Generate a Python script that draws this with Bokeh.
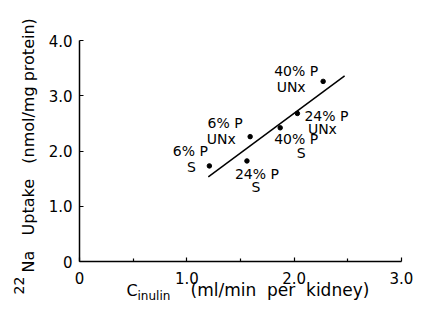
from bokeh.plotting import figure
from bokeh.models import Range1d, FixedTicker, Label, ColumnDataSource
from bokeh.core.properties import value
from bokeh.embed import file_html
from bokeh.resources import INLINE
import math

# ---- data ----
diet = ["6%", "24%", "6%", "40%", "24%", "40%"]
condition = ["S", "S", "UNx", "S", "UNx", "UNx"]
c_inulin = [1.21, 1.56, 1.59, 1.87, 2.03, 2.27]
na_uptake = [1.73, 1.82, 2.26, 2.42, 2.68, 3.26]

fit_x = [1.20, 2.47]
fit_y = [1.53, 3.36]

x_ticks = [0, 1, 2, 3]
x_minor = [0.5, 1.5, 2.5]
x_tick_labels = ["0", "1.0", "2.0", "3.0"]
y_ticks = [0, 1, 2, 3, 4]
y_tick_labels = ["0", "1.0", "2.0", "3.0", "4.0"]

# ---- layout / styling ----
W, H = 414, 301
# canvas pixel positions of the axes (origin, x=3, y=4)
X0, X3 = 79, 401
Y0, Y4 = 261, 40
X_MAX, Y_MAX = 3.0, 4.0


def xd(px):  # canvas px -> data x
    return (px - X0) / (X3 - X0) * X_MAX


def yd(py):  # canvas px (from top) -> data y
    return (Y0 - py) / (Y0 - Y4) * Y_MAX


off1 = {("6%", "S"): (-19, -15), ("24%", "S"): (10, 13), ("6%", "UNx"): (-25, -14),
        ("40%", "S"): (16, 11), ("24%", "UNx"): (29, 3), ("40%", "UNx"): (-27, -10)}
off2 = {("6%", "S"): (-18, 1), ("24%", "S"): (9, 26), ("6%", "UNx"): (-29, 2),
        ("40%", "S"): (21, 25), ("24%", "UNx"): (25, 16), ("40%", "UNx"): (-32, 6)}

FONT = value("DejaVu Sans")
NB = "\u00a0"

p = figure(width=W, height=H, output_backend="svg", toolbar_location=None,
           x_range=Range1d(xd(0), xd(W)), y_range=Range1d(yd(H), yd(0)),
           min_border=0, min_border_left=0, min_border_right=0,
           min_border_top=0, min_border_bottom=0)
p.outline_line_color = None
p.grid.visible = False
p.background_fill_color = "white"
p.border_fill_color = "white"

for ax in (p.xaxis[0], p.yaxis[0]):
    ax.fixed_location = 0
    ax.axis_line_color = "black"
    ax.axis_line_width = 1.5
    ax.major_tick_line_color = "black"
    ax.major_tick_line_width = 1.2
    ax.minor_tick_line_color = "black"
    ax.minor_tick_line_width = 1.2
    ax.major_tick_in = 4
    ax.major_tick_out = 0
    ax.minor_tick_in = 3
    ax.minor_tick_out = 0
    ax.major_label_text_font = "DejaVu Sans"
    ax.major_label_text_font_size = "15px"
    ax.major_label_text_color = "black"

p.xaxis[0].bounds = (0, X_MAX)
p.xaxis[0].ticker = FixedTicker(ticks=x_ticks, minor_ticks=x_minor)
p.xaxis[0].major_label_overrides = {t: l for t, l in zip(x_ticks, x_tick_labels)}
p.xaxis[0].major_label_standoff = 10
p.yaxis[0].bounds = (0, Y_MAX)
p.yaxis[0].ticker = FixedTicker(ticks=y_ticks, minor_ticks=[])
p.yaxis[0].major_label_overrides = {t: l for t, l in zip(y_ticks, y_tick_labels)}
p.yaxis[0].major_label_standoff = 7

# regression line
p.line(fit_x, fit_y, line_color="black", line_width=1.5)

# points
p.scatter(c_inulin, na_uptake, size=4.5, color="black")

# point labels
l1 = [d + " P" for d in diet]
keys = list(zip(diet, condition))
src = ColumnDataSource(dict(
    x=c_inulin, y=na_uptake, t1=l1, t2=condition,
    dx1=[off1[k][0] for k in keys], dy1=[off1[k][1] for k in keys],
    dx2=[off2[k][0] for k in keys], dy2=[off2[k][1] for k in keys]))
p.text(x="x", y="y", text="t1", x_offset="dx1", y_offset="dy1", source=src,
       text_font=FONT, text_font_size="14px", text_align="center",
       text_baseline="middle", text_color="black")
p.text(x="x", y="y", text="t2", x_offset="dx2", y_offset="dy2", source=src,
       text_font=FONT, text_font_size="14px", text_align="center",
       text_baseline="middle", text_color="black")

# axis titles (annotations, to allow sub/superscripts)
y_title = "Na" + NB * 3 + "Uptake" + NB * 3 + "(nmol/mg" + NB + "protein)"
p.add_layout(Label(x=xd(28), y=yd(272), text=y_title,
                   angle=math.pi / 2, text_align="left", text_baseline="middle",
                   text_font="DejaVu Sans", text_font_size="16px", text_color="black"))
p.add_layout(Label(x=xd(18), y=yd(294), text="22",
                   angle=math.pi / 2, text_align="left", text_baseline="middle",
                   text_font="DejaVu Sans", text_font_size="14px", text_color="black"))
p.add_layout(Label(x=xd(126), y=yd(290), text="C", text_align="left", text_baseline="middle",
                   text_font="DejaVu Sans", text_font_size="16px", text_color="black"))
p.add_layout(Label(x=xd(137), y=yd(295), text="inulin", text_align="left", text_baseline="middle",
                   text_font="DejaVu Sans", text_font_size="12px", text_color="black"))
x_title = "(ml/min" + NB * 2 + "per" + NB * 2 + "kidney)"
p.add_layout(Label(x=xd(190), y=yd(289), text=x_title, text_align="left",
                   text_baseline="middle",
                   text_font="DejaVu Sans", text_font_size="17px", text_color="black"))

open("out.html", "w").write(file_html(p, INLINE))
